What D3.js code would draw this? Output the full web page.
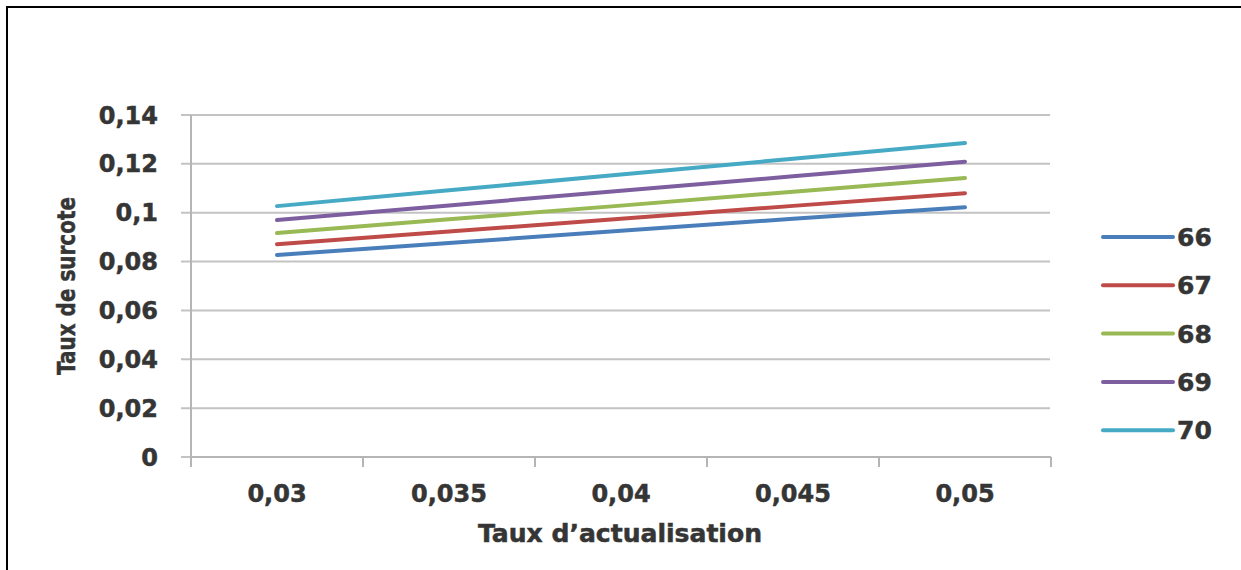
<!DOCTYPE html>
<html>
<head>
<meta charset="utf-8">
<script src="https://cdn.jsdelivr.net/npm/d3@7"></script>
<style>
  html, body { margin: 0; padding: 0; background: #fff; }
  svg { display: block; }
  text { font-family: "DejaVu Sans", Verdana, sans-serif; font-weight: bold; fill: #353535; stroke: #353535; stroke-width: 0.5px; }
</style>
</head>
<body>
<div id="chart"></div>
<script>
// Discount rates on the x axis (category axis)
const rates = ['0,03', '0,035', '0,04', '0,045', '0,05'];
// y ticks
const yTicks = [0, 0.02, 0.04, 0.06, 0.08, 0.1, 0.12, 0.14];
const yTickLabels = ['0', '0,02', '0,04', '0,06', '0,08', '0,1', '0,12', '0,14'];

// Series: retirement age
const ages = ['66', '67', '68', '69', '70'];
const s66 = [0.0827, 0.0876, 0.0926, 0.0975, 0.1022];
const s67 = [0.0871, 0.0923, 0.0975, 0.1028, 0.1080];
const s68 = [0.0917, 0.0973, 0.1029, 0.1086, 0.1142];
const s69 = [0.0970, 0.1030, 0.1090, 0.1149, 0.1209];
const s70 = [0.1027, 0.1092, 0.1156, 0.1221, 0.1285];
const colors = ['#4a7ebb', '#be4b48', '#98b954', '#7d5fa0', '#46aac5'];

const series = ages.map((a, i) => ({ name: a, values: [s66, s67, s68, s69, s70][i], color: colors[i] }));

const W = 1241, H = 570;
const svg = d3.select('#chart').append('svg').attr('width', W).attr('height', H);

// frame (top and left only)
svg.append('line').attr('x1', 6).attr('x2', W).attr('y1', 7).attr('y2', 7)
  .attr('stroke', '#000').attr('stroke-width', 2);
svg.append('line').attr('x1', 7).attr('x2', 7).attr('y1', 6).attr('y2', H)
  .attr('stroke', '#000').attr('stroke-width', 2);

const x = d3.scaleBand().domain(rates).range([191, 1051]).padding(0);
const y = d3.scaleLinear().domain([0, 0.14]).range([457, 115]);

// gridlines
svg.append('g').selectAll('line')
  .data(yTicks)
  .enter().append('line')
  .attr('x1', 181).attr('x2', 1050)
  .attr('y1', d => y(d)).attr('y2', d => y(d))
  .attr('stroke', '#c3c3c3').attr('stroke-width', 2);

// y axis line
svg.append('line').attr('x1', 191).attr('x2', 191).attr('y1', y(0.14)).attr('y2', 466)
  .attr('stroke', '#b5b5b5').attr('stroke-width', 2);

// x axis
const xAxis = svg.append('g')
  .attr('transform', `translate(0,${y(0)})`)
  .call(d3.axisBottom(x).tickSize(0).tickPadding(0).tickFormat(() => ''));
xAxis.select('.domain').remove();
xAxis.append('line').attr('x1', 191).attr('x2', 1051).attr('y1', 0).attr('y2', 0)
  .attr('stroke', '#b5b5b5').attr('stroke-width', 2);
// tick marks between categories
const bounds = rates.map(r => x(r)).concat([x(rates[rates.length - 1]) + x.bandwidth()]);
xAxis.selectAll('.sep')
  .data(bounds)
  .enter().append('line')
  .attr('class', 'sep')
  .attr('x1', d => d).attr('x2', d => d)
  .attr('y1', 0).attr('y2', 10)
  .attr('stroke', '#b5b5b5').attr('stroke-width', 2);

// x tick labels
svg.append('g').selectAll('text')
  .data(rates)
  .enter().append('text')
  .attr('x', d => x(d) + x.bandwidth() / 2)
  .attr('y', 502)
  .attr('text-anchor', 'middle')
  .style('font-size', '24px')
  .text(d => d);

// y tick labels
svg.append('g').selectAll('text')
  .data(yTicks)
  .enter().append('text')
  .attr('x', 158)
  .attr('y', d => y(d))
  .attr('dy', '0.36em')
  .attr('text-anchor', 'end')
  .style('font-size', '24px')
  .text((d, i) => yTickLabels[i]);

// axis titles
svg.append('text')
  .attr('x', 620).attr('y', 542)
  .attr('text-anchor', 'middle')
  .attr('textLength', 284).attr('lengthAdjust', 'spacingAndGlyphs')
  .style('font-size', '24px')
  .text('Taux d\u2019actualisation');

svg.append('text')
  .attr('transform', 'translate(75,286) rotate(-90)')
  .attr('text-anchor', 'middle')
  .attr('textLength', 178).attr('lengthAdjust', 'spacingAndGlyphs')
  .style('font-size', '24px')
  .text('Taux de surcote');

// lines
const line = d3.line()
  .x((d, i) => x(rates[i]) + x.bandwidth() / 2)
  .y(d => y(d));

svg.append('g').selectAll('path')
  .data(series)
  .enter().append('path')
  .attr('d', d => line(d.values))
  .attr('fill', 'none')
  .attr('stroke', d => d.color)
  .attr('stroke-width', 4)
  .attr('stroke-linecap', 'round');

// legend
const legend = svg.append('g').attr('transform', 'translate(1103,237)');
const items = legend.selectAll('g')
  .data(series)
  .enter().append('g')
  .attr('transform', (d, i) => `translate(0,${i * 48.3})`);
items.append('line')
  .attr('x1', 0).attr('x2', 70).attr('y1', 0).attr('y2', 0)
  .attr('stroke', d => d.color).attr('stroke-width', 4).attr('stroke-linecap', 'round');
items.append('text')
  .attr('x', 74).attr('y', 0).attr('dy', '0.36em')
  .style('font-size', '25px')
  .text(d => d.name);
</script>
</body>
</html>
